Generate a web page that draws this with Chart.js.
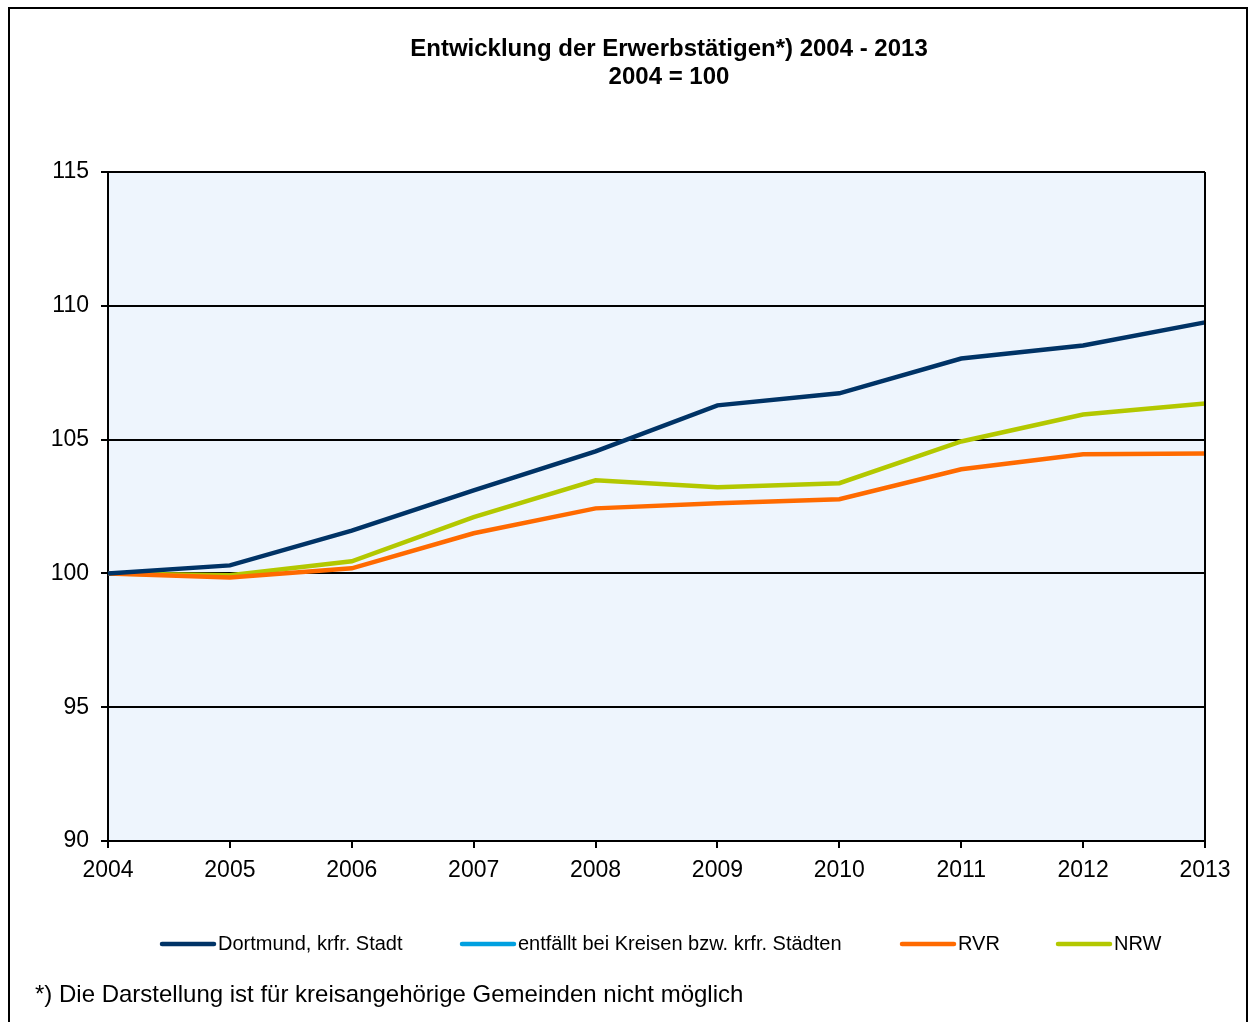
<!DOCTYPE html>
<html lang="de">
<head>
    <meta charset="UTF-8">
    <title>Entwicklung der Erwerbstätigen 2004 - 2013</title>
    <script src="https://cdn.jsdelivr.net/npm/chart.js"></script>
    <style>
        body { margin: 0; background: #fff; }
        #wrap { width: 1249px; height: 1022px; position: relative; }
    </style>
</head>
<body>
    <div id="wrap"><canvas id="chart" width="1249" height="1022"></canvas></div>

    <script>
        const years = ['2004', '2005', '2006', '2007', '2008', '2009', '2010', '2011', '2012', '2013'];
        const dortmund = [100, 100.3, 101.6, 103.1, 104.56, 106.28, 106.73, 108.03, 108.52, 109.38];
        const kreise = [];   // entfällt bei Kreisen bzw. krfr. Städten
        const rvr = [100, 99.85, 100.19, 101.5, 102.43, 102.62, 102.77, 103.89, 104.45, 104.48];
        const nrw = [100, 99.93, 100.45, 102.1, 103.48, 103.22, 103.37, 104.93, 105.94, 106.35];

        const titleLines = ['Entwicklung der Erwerbstätigen*) 2004 - 2013', '2004 = 100'];
        const footnote = '*) Die Darstellung ist für kreisangehörige Gemeinden nicht möglich';
        const FONT = '"Liberation Sans", Arial, sans-serif';

        // frame, title, plot border, legend and footnote
        const decor = {
            id: 'decor',
            beforeDraw(chart) {
                const c = chart.ctx, a = chart.chartArea;
                c.save();
                c.fillStyle = '#EEF5FD';
                c.fillRect(a.left, a.top, a.right - a.left, a.bottom - a.top);
                c.restore();
            },
            afterDraw(chart) {
                const c = chart.ctx, a = chart.chartArea;
                c.save();
                // outer frame
                c.strokeStyle = '#000';
                c.lineWidth = 2;
                c.strokeRect(9, 8, 1238, 1030);
                // right edge of plot
                c.beginPath();
                c.moveTo(a.right, a.top);
                c.lineTo(a.right, a.bottom);
                c.stroke();

                // title
                c.fillStyle = '#000';
                c.font = 'bold 24px ' + FONT;
                c.textAlign = 'center';
                c.textBaseline = 'middle';
                c.fillText(titleLines[0], 669, 49);
                c.fillText(titleLines[1], 669, 77);

                // legend
                const legX = [160, 460, 900, 1056];
                c.font = '20px ' + FONT;
                c.textAlign = 'left';
                chart.data.datasets.forEach((ds, i) => {
                    c.strokeStyle = ds.borderColor;
                    c.lineWidth = 4.5;
                    c.lineCap = 'round';
                    c.beginPath();
                    c.moveTo(legX[i] + 2, 944);
                    c.lineTo(legX[i] + 54, 944);
                    c.stroke();
                    c.fillStyle = '#000';
                    c.fillText(ds.label, legX[i] + 58, 944);
                });

                // footnote
                c.font = '24px ' + FONT;
                c.fillText(footnote, 35, 995);
                c.restore();
            }
        };

        new Chart(document.getElementById('chart'), {
            type: 'line',
            data: {
                labels: years,
                datasets: [
                    { label: 'Dortmund, krfr. Stadt', data: dortmund, borderColor: '#003366' },
                    { label: 'entfällt bei Kreisen bzw. krfr. Städten', data: kreise, borderColor: '#00A0E0' },
                    { label: 'RVR', data: rvr, borderColor: '#FF6A00' },
                    { label: 'NRW', data: nrw, borderColor: '#B3C800' }
                ]
            },
            options: {
                responsive: false,
                animation: false,
                layout: { padding: { left: 20, right: 44, top: 172, bottom: 141 } },
                elements: {
                    line: { borderWidth: 4.5, tension: 0, fill: false },
                    point: { radius: 0, hoverRadius: 0 }
                },
                plugins: {
                    legend: { display: false },
                    title: { display: false },
                    tooltip: { enabled: false }
                },
                scales: {
                    x: {
                        offset: false,
                        afterFit(scale) { scale.height = 40; },
                        grid: { drawOnChartArea: false, drawTicks: true, tickLength: 7, color: '#000', lineWidth: 2 },
                        border: { color: '#000', width: 2 },
                        ticks: { color: '#000', font: { family: FONT, size: 23 }, padding: 9, maxRotation: 0 }
                    },
                    y: {
                        min: 90,
                        max: 115,
                        afterFit(scale) { scale.width = 88; },
                        grid: { color: '#000', lineWidth: 2, tickLength: 7 },
                        border: { color: '#000', width: 2 },
                        ticks: { stepSize: 5, color: '#000', font: { family: FONT, size: 23 }, padding: 12 }
                    }
                }
            },
            plugins: [decor]
        });
    </script>
</body>
</html>
